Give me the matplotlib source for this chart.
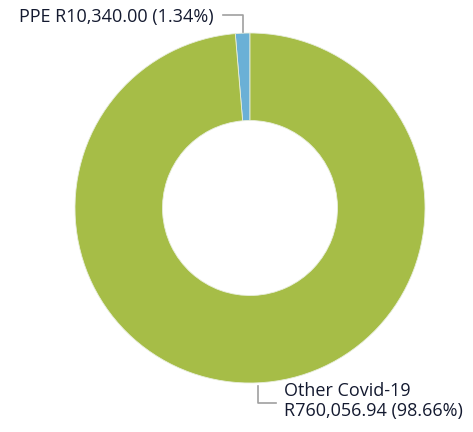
import matplotlib.pyplot as plt

labels = ['PPE', 'Other Covid-19']
amounts = [10340.00, 760056.94]
shares = [1.34, 98.66]
colors = ['#6ab0d6', '#a6bd47']

W, H = 473, 432
fig = plt.figure(figsize=(W / 100, H / 100), dpi=100)
ax = fig.add_axes([0, 0, 1, 1])

cx, cy, r = 250, H - 208, 175
ax.pie(amounts, colors=colors, startangle=90, counterclock=True,
       radius=r, center=(cx, cy), frame=True,
       wedgeprops=dict(width=r * 0.5, edgecolor='#e8eedc', linewidth=0.6))
ax.set_xlim(0, W)
ax.set_ylim(0, H)
ax.set_aspect('equal')
ax.axis('off')

txt = '#141a30'
font = dict(family=['Open Sans', 'DejaVu Sans'], fontsize=13, color=txt)
line = dict(color='#a0a0a0', lw=1.2)

# PPE label and leader
ax.plot([223, 243, 243], [H - 15, H - 15, H - 32], **line)
ax.text(214, H - 17, f'{labels[0]} R{amounts[0]:,.2f} ({shares[0]:.2f}%)',
        ha='right', va='center', **font)

# Other Covid-19 label and leader
ax.plot([258, 258, 276], [H - 386, H - 403, H - 403], **line)
ax.text(284, H - 391, labels[1], ha='left', va='center', **font)
ax.text(284, H - 411, f'R{amounts[1]:,.2f} ({shares[1]:.2f}%)',
        ha='left', va='center', **font)

fig.savefig('out.png', dpi=100)
